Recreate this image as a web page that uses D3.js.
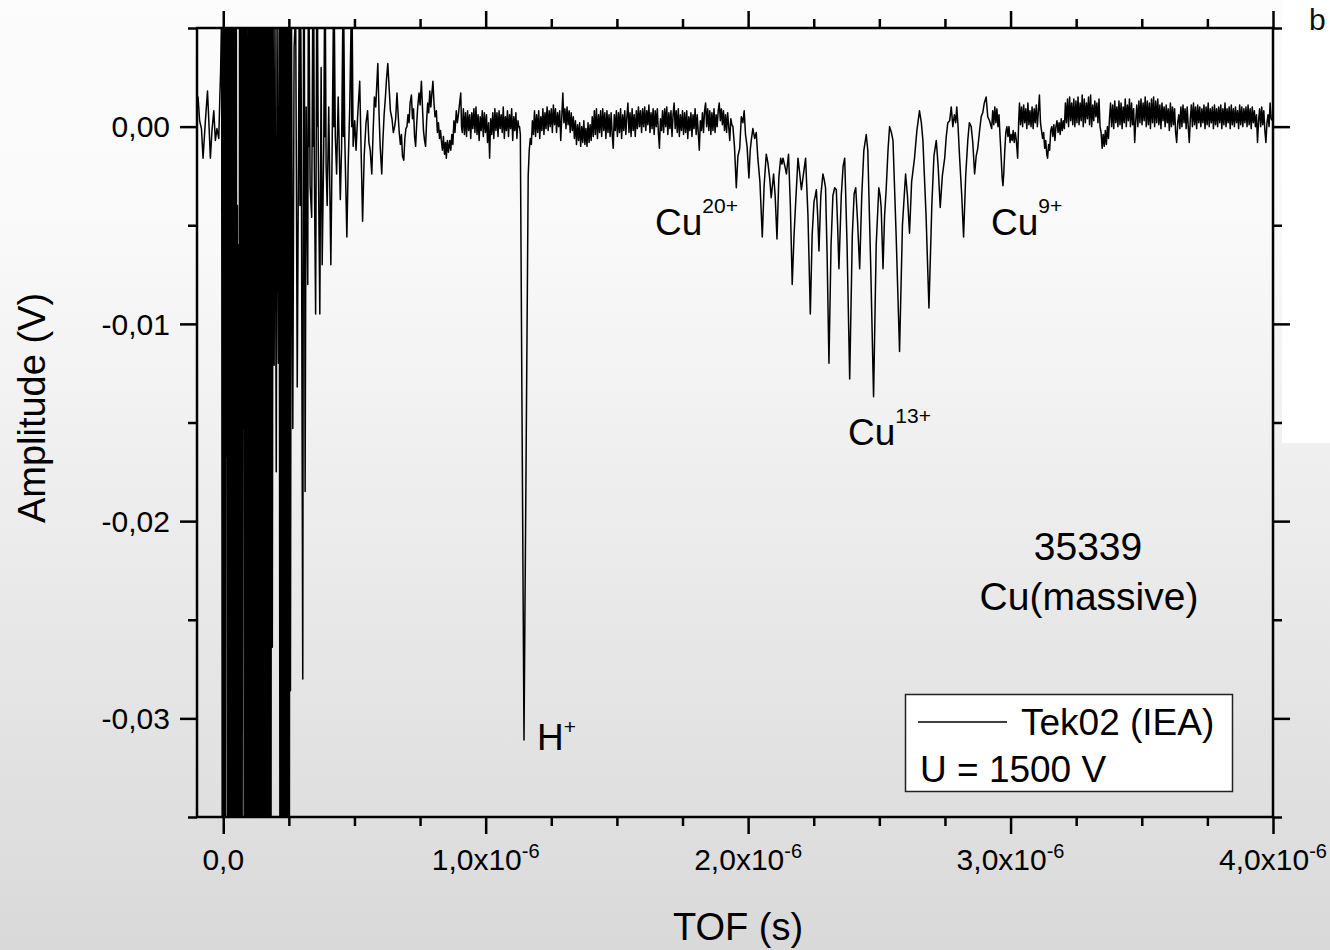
<!DOCTYPE html>
<html>
<head>
<meta charset="utf-8">
<title>TOF spectrum</title>
<script src="https://cdn.jsdelivr.net/npm/d3@7/dist/d3.min.js"></script>
<style>
html,body{margin:0;padding:0;background:#fff;}
svg{display:block;font-family:"Liberation Sans",Arial,Helvetica,sans-serif;}
</style>
</head>
<body>
<svg id="chart" width="1330" height="950"></svg>
<script>
// ---------- data: [TOF (µs), amplitude (mV)] ----------
const preBurst = [[-0.100,1.2],[-0.096,1.5],[-0.090,0.3],[-0.083,-0.1],[-0.077,-1.6],[-0.068,0.3],[-0.060,1.8],[-0.055,0.3],[-0.049,-1.6],[-0.043,-0.2],[-0.036,0.8],[-0.030,-0.7],[-0.024,-0.1],[-0.017,-0.6],[-0.013,1.5],[-0.010,2.8]];

const burst = [[-0.006,6],[-0.004,-38],[-0.002,6],[0.000,-38],[0.002,6],[0.004,-38],[0.006,6],[0.008,-38],[0.010,6],[0.012,-16.7],[0.014,6],[0.016,-38],[0.018,6],[0.020,-38],[0.022,6],[0.024,-38],[0.026,6],[0.028,-38],[0.030,6],[0.032,-38],[0.034,6],[0.036,-38],[0.038,6],[0.040,-38],[0.042,6],[0.044,-38],[0.046,6],[0.048,-38],[0.050,6],[0.052,-38],[0.054,-4],[0.056,-38],[0.058,-6],[0.060,-38],[0.062,6],[0.064,-38],[0.066,6],[0.068,-38],[0.070,6],[0.072,-38],[0.074,6],[0.076,-15.3],[0.078,6],[0.080,-38],[0.082,6],[0.084,-38],[0.086,6],[0.088,-38],[0.090,6],[0.092,-38],[0.094,-13.1],[0.096,6],[0.098,-38],[0.100,6],[0.102,-38],[0.104,6],[0.106,-38],[0.108,6],[0.110,-38],[0.112,6],[0.114,-38],[0.116,6],[0.118,-38],[0.120,6],[0.122,-38],[0.124,6],[0.126,-38],[0.128,6],[0.130,-38],[0.132,6],[0.134,-38],[0.136,6],[0.138,-38],[0.140,6],[0.142,-38],[0.144,6],[0.146,-38],[0.148,6],[0.150,-38],[0.152,6],[0.154,-38],[0.156,6],[0.158,-38],[0.160,6],[0.162,-38],[0.164,6],[0.166,-38],[0.168,6],[0.170,-38],[0.172,6],[0.174,-38],[0.176,6],[0.178,-38],[0.180,6],[0.182,-38],[0.184,6],[0.187,-26.4],[0.190,6],[0.194,-12.1],[0.197,6],[0.202,-17.5],[0.205,6],[0.210,-12],[0.213,6],[0.216,-38],[0.218,6],[0.220,-38],[0.222,6],[0.224,-38],[0.226,6],[0.228,-38],[0.230,6],[0.232,-38],[0.234,6],[0.236,-38],[0.238,6],[0.240,-38],[0.242,6],[0.244,-38],[0.246,6],[0.248,-38],[0.250,6],[0.252,-38],[0.254,6],[0.256,-28.6],[0.260,6],[0.265,-15.3],[0.270,4],[0.276,6],[0.282,-13.2]];

const ringDown = [[0.2895,6],[0.2925,-4],[0.295,6],[0.297,2],[0.303,-28],[0.306,6],[0.3075,-3],[0.309,6],[0.312,-18.5],[0.316,1],[0.322,-8],[0.324,6],[0.3255,-1],[0.327,6],[0.331,-3],[0.337,-4.6],[0.341,6],[0.343,-1],[0.345,6],[0.347,-2],[0.352,-9.5],[0.356,6],[0.3575,0],[0.359,6],[0.362,-1],[0.368,-9.5],[0.373,3],[0.377,-7],[0.383,-1],[0.386,6],[0.3875,-0.5],[0.389,6],[0.392,-2],[0.396,-4],[0.402,1],[0.410,-7],[0.415,-1],[0.420,6],[0.4215,0],[0.423,6],[0.427,-0.5],[0.432,-2.4],[0.438,1.5],[0.446,-3.7],[0.451,-1],[0.456,6],[0.4575,-0.5],[0.459,6],[0.463,-0.5],[0.471,-5.6],[0.476,-2],[0.482,1],[0.488,6],[0.4895,0],[0.491,6],[0.495,-1],[0.501,0.3],[0.506,-1.2],[0.512,0.5],[0.520,2.3],[0.525,-1],[0.531,-4.8],[0.537,-1.5],[0.544,0.2],[0.550,0.8],[0.555,-0.8],[0.560,-1.2],[0.566,-2.4],[0.571,-0.3],[0.576,1.5],[0.581,1.0],[0.589,3.2],[0.594,0.5],[0.598,-1.0],[0.604,-2.4],[0.608,-0.8],[0.613,0.6],[0.618,1.5],[0.622,2.4],[0.627,3.2],[0.632,2.0],[0.637,0.8],[0.643,0.4],[0.648,-0.3],[0.653,0.0]];

const baseline0 = [[0.657,0.4],[0.662,1.7],[0.666,0.7],[0.670,-0.2],[0.675,-0.9],[0.679,-0.4],[0.683,-1.5],[0.688,-1.7],[0.692,-0.6],[0.696,-0.1],[0.700,0.0],[0.704,0.6],[0.708,0.2],[0.712,1.2],[0.717,1.6],[0.721,0.4],[0.725,0.9],[0.729,-0.5],[0.733,-1.0],[0.737,0.1],[0.741,1.0],[0.746,1.7],[0.750,1.1],[0.755,2.3],[0.759,1.0],[0.763,-0.2],[0.767,-0.7],[0.771,-1.0],[0.775,0.3],[0.779,1.2],[0.783,0.7],[0.787,1.8],[0.791,1.0],[0.795,1.7],[0.799,2.3],[0.803,1.2],[0.807,0.5],[0.812,0.8],[0.816,-0.3],[0.820,0.2],[0.824,-0.6],[0.828,-0.2],[0.831,-0.7],[0.835,-1.2],[0.839,-0.5],[0.843,-1.4],[0.847,-0.8],[0.850,-1.6],[0.854,-0.7],[0.858,-1.3],[0.863,-0.7],[0.867,-1.2],[0.871,-0.4],[0.875,-0.9],[0.879,0.3],[0.883,-0.3],[0.888,0.8],[0.892,0.2],[0.896,0.6],[0.900,1.1],[0.905,1.7],[0.908,0.0]];

const baseline1 = [[0.911,-0.3],[0.915,0.9],[0.919,-0.4],[0.923,0.7],[0.927,-0.5],[0.931,0.8],[0.935,-0.2],[0.939,0.6],[0.943,-0.6],[0.947,0.7],[0.951,-0.1],[0.955,0.9],[0.959,-0.3],[0.963,1.0],[0.967,-0.4],[0.971,0.6],[0.975,-0.7],[0.979,0.5],[0.983,-0.2],[0.987,0.8],[0.991,-0.5],[0.995,0.7],[0.999,-0.3],[1.003,0.6],[1.007,-0.8],[1.011,0.2],[1.015,-1.6],[1.019,0.4],[1.023,-0.4],[1.027,0.7],[1.031,-0.6],[1.035,0.9],[1.039,-0.2],[1.043,0.7],[1.047,-0.5],[1.051,0.8],[1.055,-0.1],[1.059,0.6],[1.063,-0.3],[1.067,1.0],[1.071,-0.6],[1.075,0.5],[1.079,-0.2],[1.083,0.8],[1.087,-0.5],[1.091,0.6],[1.095,-0.1],[1.099,0.9],[1.103,-0.7],[1.107,0.5],[1.111,-0.2],[1.115,0.7],[1.119,-0.6],[1.123,0.3],[1.126,0.0]];

const hPeak = [[1.129,0.0],[1.132,-0.4],[1.146,-31.1],[1.162,-2.5],[1.166,-1.2],[1.170,-0.6],[1.174,-0.9],[1.178,0.3],[1.182,-0.4],[1.186,0.8]];

const baseline2 = [[1.190,-0.5],[1.194,0.6],[1.198,-0.3],[1.202,0.8],[1.206,-0.6],[1.210,0.5],[1.214,-0.2],[1.218,0.9],[1.222,-0.4],[1.226,0.7],[1.230,-0.1],[1.234,1.0],[1.238,-0.2],[1.242,0.8],[1.246,0.0],[1.250,0.9],[1.254,-0.3],[1.258,1.1],[1.262,0.1],[1.266,0.9],[1.270,-0.3],[1.274,0.7],[1.278,0.0],[1.282,0.8],[1.286,-0.7],[1.290,0.5],[1.294,1.7],[1.298,0.2],[1.302,0.9],[1.306,-0.1],[1.310,1.0],[1.314,0.1],[1.318,0.8],[1.322,-0.3],[1.326,0.7],[1.330,-0.2],[1.334,0.5],[1.338,-0.6],[1.342,0.3],[1.346,-0.9],[1.350,0.1],[1.354,-0.7],[1.358,0.2],[1.362,-1.0],[1.366,0.0],[1.370,-0.8],[1.374,0.3],[1.378,-0.9],[1.382,-0.1],[1.386,-1.0],[1.390,0.2],[1.394,-0.8],[1.398,0.1],[1.402,-0.7],[1.406,0.5],[1.410,-0.5],[1.414,0.8],[1.418,-0.4],[1.422,0.9],[1.426,-0.6],[1.430,0.6],[1.434,-0.3],[1.438,0.8],[1.442,-0.5],[1.446,0.9],[1.450,-0.2],[1.454,0.7],[1.458,-0.6],[1.462,0.8],[1.466,-0.3],[1.470,0.6],[1.474,-0.5],[1.478,0.7],[1.482,-0.4],[1.486,-1.1],[1.490,0.6],[1.494,-0.2],[1.498,0.8],[1.502,-0.5],[1.506,0.7],[1.510,-0.3],[1.514,0.9],[1.518,-0.6],[1.522,0.6],[1.526,-0.2],[1.530,0.8],[1.534,-0.4],[1.538,0.5],[1.542,1.2],[1.546,-0.3],[1.550,0.7],[1.554,-0.5],[1.558,0.9],[1.562,-0.2],[1.566,0.6],[1.570,-0.5],[1.574,0.8],[1.578,-0.1],[1.582,1.0],[1.586,0.0],[1.590,0.8],[1.594,-0.3],[1.598,0.9],[1.602,0.0],[1.606,1.0],[1.610,-0.2],[1.614,0.8],[1.618,0.1],[1.622,1.1],[1.626,-0.3],[1.630,0.7],[1.634,-0.1],[1.638,0.9],[1.642,-0.4],[1.646,0.8],[1.650,0.0],[1.654,0.9],[1.658,-0.3],[1.662,-1.1],[1.666,0.4],[1.670,-0.2],[1.674,0.8],[1.678,-0.3],[1.682,0.9],[1.686,0.0],[1.690,1.0],[1.694,-0.4],[1.698,0.7],[1.702,-0.1],[1.706,0.8],[1.710,-0.5],[1.714,0.6],[1.718,1.2],[1.722,-0.1],[1.726,0.8],[1.730,-0.3],[1.734,0.9],[1.738,-0.5],[1.742,0.6],[1.746,-0.2],[1.750,0.8],[1.754,-0.4],[1.758,0.7],[1.762,-0.3],[1.766,0.8],[1.770,-0.6],[1.774,0.5],[1.778,-0.2],[1.782,0.7],[1.786,-0.5],[1.790,0.6],[1.794,-0.1],[1.798,0.9],[1.802,-0.4],[1.806,0.6],[1.810,-0.3],[1.814,-1.2],[1.818,0.3],[1.822,-0.2],[1.826,0.7],[1.830,-0.3],[1.834,0.8],[1.838,1.2],[1.842,0.0],[1.846,0.9],[1.850,-0.2],[1.854,0.8],[1.858,-0.4],[1.862,0.7],[1.866,-0.2],[1.870,0.9],[1.874,-0.3],[1.878,0.6],[1.882,0.0],[1.886,0.8],[1.890,1.2],[1.894,0.3],[1.898,0.9],[1.902,0.1],[1.906,0.8],[1.910,-0.2],[1.914,0.6],[1.918,-0.3],[1.922,0.7],[1.926,0.0],[1.930,-0.7],[1.934,0.4],[1.938,0.1]];

const cuCluster = [[1.942,0.0],[1.948,-1.0],[1.955,-3.1],[1.961,-1.5],[1.968,-1.1],[1.974,0.5],[1.980,0.2],[1.985,0.8],[1.990,-0.4],[1.996,-1.0],[2.003,-2.6],[2.008,-1.2],[2.012,-0.7],[2.018,-0.1],[2.025,-0.6],[2.031,-0.3],[2.037,-1.6],[2.045,-2.8],[2.054,-5.6],[2.061,-3.0],[2.069,-1.4],[2.075,-1.8],[2.082,-2.6],[2.088,-3.6],[2.097,-2.4],[2.103,-3.5],[2.110,-5.7],[2.117,-2.6],[2.124,-1.6],[2.129,-1.9],[2.133,-1.6],[2.140,-2.0],[2.146,-2.4],[2.154,-1.4],[2.161,-4.0],[2.168,-8.0],[2.175,-5.5],[2.181,-3.9],[2.190,-1.6],[2.196,-2.3],[2.203,-3.2],[2.210,-2.5],[2.219,-1.6],[2.228,-4.5],[2.237,-9.5],[2.244,-5.5],[2.251,-3.8],[2.256,-3.5],[2.260,-3.2],[2.265,-4.5],[2.270,-6.3],[2.277,-3.5],[2.285,-2.4],[2.290,-2.7],[2.295,-3.1],[2.301,-6.5],[2.308,-12.0],[2.316,-6.0],[2.323,-3.5],[2.330,-3.1],[2.336,-3.2],[2.341,-5.0],[2.346,-7.2],[2.355,-3.5],[2.362,-2.0],[2.368,-1.6],[2.377,-6.0],[2.387,-12.8],[2.397,-5.5],[2.404,-3.4],[2.410,-3.1],[2.417,-4.8],[2.425,-7.2],[2.433,-3.5],[2.441,-1.2],[2.450,-0.4],[2.456,-1.2],[2.467,-7.0],[2.478,-13.7],[2.488,-6.0],[2.498,-3.1],[2.503,-3.5],[2.507,-4.1],[2.514,-7.2],[2.520,-4.5],[2.526,-3.2],[2.533,-1.2],[2.539,0.0],[2.546,-0.3],[2.552,-0.7],[2.564,-5.5],[2.577,-11.4],[2.588,-5.0],[2.600,-2.4],[2.607,-3.5],[2.615,-5.4],[2.623,-2.8],[2.634,-1.6],[2.643,-0.2],[2.648,0.3],[2.653,0.8],[2.660,0.2],[2.666,-0.7],[2.678,-4.5],[2.689,-9.2],[2.700,-4.0],[2.708,-1.5],[2.717,-0.7],[2.724,-2.0],[2.732,-4.1],[2.740,-2.5],[2.749,-1.6],[2.755,-0.5],[2.761,0.2],[2.768,0.3],[2.774,1.0],[2.780,0.0],[2.786,0.6],[2.791,0.2],[2.795,1.0],[2.800,0.0],[2.806,-1.6],[2.814,-3.5],[2.821,-5.6],[2.829,-2.5],[2.837,-0.7],[2.843,0.2],[2.850,0.0],[2.856,-0.8],[2.863,-2.4],[2.869,-1.5],[2.875,-1.1],[2.882,-0.2],[2.888,0.5],[2.894,0.7],[2.900,1.2],[2.907,1.5],[2.913,0.5],[2.920,0.3]];

const tail = [[2.928,-0.1],[2.932,0.8],[2.936,0.1],[2.940,1.0],[2.944,0.2],[2.948,0.9],[2.952,0.0],[2.956,0.6],[2.960,-0.5],[2.964,-1.5],[2.968,-2.6],[2.971,-3.0],[2.974,-2.4],[2.978,-1.2],[2.982,-0.3],[2.986,0.0],[2.990,-0.5],[2.994,0.0],[2.998,-0.8],[3.002,-0.4],[3.006,-0.7],[3.010,-0.2],[3.014,-0.8],[3.018,-0.3],[3.022,-0.7],[3.027,-1.6],[3.031,0.3],[3.034,1.2],[3.038,0.1],[3.042,1.0],[3.046,0.0],[3.050,1.1],[3.054,0.2],[3.058,0.9],[3.062,-0.1],[3.066,1.2],[3.070,0.1],[3.074,0.8],[3.078,0.0],[3.082,1.0],[3.086,-0.1],[3.090,0.9],[3.094,0.2],[3.098,1.1],[3.102,0.0],[3.106,0.8],[3.110,1.6],[3.114,0.2],[3.118,-0.2],[3.122,-0.6],[3.126,-0.3],[3.130,-1.1],[3.134,-0.7],[3.138,-1.4],[3.141,-1.6],[3.145,-0.9],[3.149,-1.2],[3.153,-0.2],[3.157,0.0],[3.161,-0.5],[3.165,0.1],[3.169,-0.7],[3.173,0.0],[3.177,0.3],[3.181,-0.3],[3.185,0.2],[3.189,-0.4],[3.193,0.4],[3.197,-0.2],[3.201,0.3],[3.205,-0.1],[3.209,1.2],[3.213,0.2],[3.217,1.4],[3.221,0.0],[3.225,1.5],[3.229,0.3],[3.233,1.2],[3.237,0.1],[3.241,1.4],[3.245,0.0],[3.249,1.3],[3.253,0.2],[3.257,1.5],[3.261,0.1],[3.265,1.2],[3.269,0.3],[3.273,1.6],[3.277,0.0],[3.281,1.4],[3.285,0.2],[3.289,1.2],[3.293,0.4],[3.297,1.5],[3.301,0.1],[3.305,1.6],[3.309,0.0],[3.313,1.1],[3.317,0.3],[3.321,1.3],[3.325,0.5],[3.329,1.2],[3.333,0.2],[3.337,1.4],[3.341,0.0],[3.345,-0.3],[3.349,-1.1],[3.353,-0.4],[3.357,-1.0],[3.361,-0.2],[3.365,-0.9],[3.369,0.0],[3.373,-0.6],[3.377,0.4],[3.381,1.2],[3.385,0.0],[3.389,1.1],[3.393,-0.1],[3.397,1.3],[3.401,0.2],[3.405,1.0],[3.409,0.0],[3.413,1.3],[3.417,0.1],[3.421,1.2],[3.425,-0.1],[3.429,1.0],[3.433,0.2],[3.437,1.4],[3.441,0.0],[3.445,1.1],[3.449,0.3],[3.453,1.4],[3.457,0.0],[3.461,1.2],[3.465,0.1],[3.469,0.9],[3.473,-0.8],[3.477,0.3],[3.481,1.1],[3.485,0.0],[3.489,1.3],[3.493,0.2],[3.497,1.4],[3.501,0.1],[3.505,1.2],[3.509,0.3],[3.513,1.5],[3.517,0.0],[3.521,1.3],[3.525,0.1],[3.529,1.2],[3.533,-0.1],[3.537,1.4],[3.541,0.2],[3.545,1.5],[3.549,0.0],[3.553,1.3],[3.557,0.2],[3.561,1.4],[3.565,0.1],[3.569,1.1],[3.573,-0.1],[3.577,1.2],[3.581,0.3],[3.585,1.0],[3.589,0.0],[3.593,1.1],[3.597,0.2],[3.601,0.9],[3.605,-0.2],[3.609,1.2],[3.613,0.0],[3.617,1.0],[3.621,0.1],[3.625,0.9],[3.629,-0.3],[3.633,-0.8],[3.637,0.2],[3.641,0.6],[3.645,-0.1],[3.649,1.0],[3.653,0.0],[3.657,1.1],[3.661,0.2],[3.665,0.9],[3.669,-0.1],[3.673,1.0],[3.677,0.0],[3.681,-0.8],[3.685,0.4],[3.689,1.1],[3.693,0.0],[3.697,1.2],[3.701,0.1],[3.705,1.0],[3.709,-0.1],[3.713,1.1],[3.717,0.2],[3.721,1.0],[3.725,0.0],[3.729,0.9],[3.733,0.2],[3.737,1.1],[3.741,-0.1],[3.745,1.0],[3.749,0.1],[3.753,1.2],[3.757,0.0],[3.761,0.9],[3.765,0.2],[3.769,1.0],[3.773,-0.1],[3.777,1.1],[3.781,0.1],[3.785,0.9],[3.789,0.0],[3.793,1.0],[3.797,0.2],[3.801,1.1],[3.805,-0.1],[3.809,0.9],[3.813,0.1],[3.817,1.2],[3.821,0.0],[3.825,0.9],[3.829,0.2],[3.833,1.0],[3.837,-0.1],[3.841,1.1],[3.845,0.1],[3.849,0.9],[3.853,0.0],[3.857,1.0],[3.861,0.2],[3.865,0.8],[3.869,-0.1],[3.873,1.1],[3.877,0.1],[3.881,1.0],[3.885,0.0],[3.889,0.9],[3.893,0.2],[3.897,1.0],[3.901,0.0],[3.905,1.1],[3.909,0.1],[3.913,0.9],[3.917,-0.1],[3.921,1.0],[3.925,0.2],[3.929,0.8],[3.933,0.0],[3.937,0.6],[3.941,-0.8],[3.945,0.3],[3.949,0.9],[3.953,0.0],[3.957,1.0],[3.961,0.1],[3.965,0.8],[3.969,-0.2],[3.973,-0.8],[3.977,0.2],[3.981,0.6],[3.985,0.0],[3.989,1.2],[3.993,0.4],[3.998,0.3]];

// ---------- axes, ticks, labels ----------
const xDomain = [-0.1e-6, 4.0e-6];
const yDomain = [-0.035, 0.005];
const xMajorTicks = [0, 1e-6, 2e-6, 3e-6, 4e-6];
const xMinorTicks = [0.25e-6, 0.5e-6, 0.75e-6, 1.25e-6, 1.5e-6, 1.75e-6, 2.25e-6, 2.5e-6, 2.75e-6, 3.25e-6, 3.5e-6, 3.75e-6];
const xTickMantissa = ["0,0", "1,0", "2,0", "3,0", "4,0"];
const xTickExponent = ["", "-6", "-6", "-6", "-6"];
const yMajorTicks = [0, -0.01, -0.02, -0.03];
const yMinorTicks = [0.005, -0.005, -0.015, -0.025, -0.035];
const yTickLabels = ["0,00", "-0,01", "-0,02", "-0,03"];
const xTitle = "TOF (s)";
const yTitle = "Amplitude (V)";
const legendLabels = ["Tek02 (IEA)", "U = 1500 V"];
const sampleLines = ["35339", "Cu(massive)"];
const peakLabels = [["Cu", "20+"], ["Cu", "13+"], ["Cu", "9+"], ["H", "+"]];
const panelLetter = "b";

// ---------- drawing ----------
const W = 1330, H = 950;
const L = 197, R = 1273, T = 28, B = 817;
const svg = d3.select("#chart");
const defs = svg.append("defs");
const grad = defs.append("linearGradient").attr("id", "bg").attr("x1", 0).attr("y1", 0).attr("x2", 0).attr("y2", 1);
grad.append("stop").attr("offset", "0%").attr("stop-color", "#fcfcfc");
grad.append("stop").attr("offset", "25%").attr("stop-color", "#f9f9f9");
grad.append("stop").attr("offset", "100%").attr("stop-color", "#d9d9d9");
defs.append("clipPath").attr("id", "clip").append("rect")
  .attr("x", L).attr("y", T).attr("width", R - L).attr("height", B - T);

svg.append("rect").attr("width", W).attr("height", H).attr("fill", "url(#bg)");
svg.append("rect").attr("x", 1282).attr("y", 0).attr("width", 48).attr("height", 443).attr("fill", "#ffffff");
svg.append("text").attr("x", 1309).attr("y", 30).attr("font-size", 30).attr("fill", "#111").text(panelLetter);

const x = d3.scaleLinear().domain(xDomain).range([L, R]);
const y = d3.scaleLinear().domain(yDomain).range([B, T]);

const trace = [].concat(preBurst, burst, ringDown, baseline0, baseline1, hPeak, baseline2, cuCluster, tail);
const line = d3.line().x(d => x(d[0] * 1e-6)).y(d => y(d[1] * 1e-3));
svg.append("path").datum(trace)
  .attr("clip-path", "url(#clip)")
  .attr("d", line).attr("fill", "none").attr("stroke", "#000")
  .attr("stroke-width", 1.5).attr("stroke-linejoin", "round");

function styleAxis(g) {
  g.select(".domain").remove();
  g.selectAll(".tick line").attr("stroke", "#000").attr("stroke-width", 2.5);
  g.selectAll(".tick text").remove();
}
const MAJ = 17, MIN = 9;
svg.append("g").attr("transform", `translate(0,${B})`).call(d3.axisBottom(x).tickValues(xMajorTicks).tickSize(MAJ).tickFormat("")).call(styleAxis);
svg.append("g").attr("transform", `translate(0,${B})`).call(d3.axisBottom(x).tickValues(xMinorTicks).tickSize(MIN).tickFormat("")).call(styleAxis);
svg.append("g").attr("transform", `translate(0,${T})`).call(d3.axisTop(x).tickValues(xMajorTicks).tickSize(MAJ).tickFormat("")).call(styleAxis);
svg.append("g").attr("transform", `translate(0,${T})`).call(d3.axisTop(x).tickValues(xMinorTicks).tickSize(MIN).tickFormat("")).call(styleAxis);
svg.append("g").attr("transform", `translate(${L},0)`).call(d3.axisLeft(y).tickValues(yMajorTicks).tickSize(MAJ).tickFormat("")).call(styleAxis);
svg.append("g").attr("transform", `translate(${L},0)`).call(d3.axisLeft(y).tickValues(yMinorTicks).tickSize(MIN).tickFormat("")).call(styleAxis);
svg.append("g").attr("transform", `translate(${R},0)`).call(d3.axisRight(y).tickValues(yMajorTicks).tickSize(MAJ).tickFormat("")).call(styleAxis);
svg.append("g").attr("transform", `translate(${R},0)`).call(d3.axisRight(y).tickValues(yMinorTicks).tickSize(MIN).tickFormat("")).call(styleAxis);

svg.append("rect").attr("x", L).attr("y", T).attr("width", R - L).attr("height", B - T)
  .attr("fill", "none").attr("stroke", "#000").attr("stroke-width", 2.5);

// tick labels
const xl = svg.append("g").attr("font-size", 30).attr("fill", "#000");
xMajorTicks.forEach((v, i) => {
  const t = xl.append("text").attr("x", x(v)).attr("y", 870).attr("text-anchor", "middle");
  if (xTickExponent[i]) {
    t.append("tspan").text(xTickMantissa[i] + "x10");
    t.append("tspan").attr("font-size", 20).attr("dy", -12).text(xTickExponent[i]);
  } else {
    t.text(xTickMantissa[i]);
  }
});
const yl = svg.append("g").attr("font-size", 30).attr("fill", "#000");
yMajorTicks.forEach((v, i) => {
  yl.append("text").attr("x", 170).attr("y", y(v)).attr("dy", "0.36em").attr("text-anchor", "end").text(yTickLabels[i]);
});

// axis titles
svg.append("text").attr("x", 738).attr("y", 940).attr("text-anchor", "middle").attr("font-size", 38).text(xTitle);
svg.append("text").attr("transform", "translate(45,408) rotate(-90)").attr("text-anchor", "middle").attr("font-size", 38).text(yTitle);

// peak annotations
const peakPos = [[655, 235, -22], [848, 445, -22], [991, 235, -22], [537, 750, -16]];
peakLabels.forEach((p, i) => {
  const [px, py, dy] = peakPos[i];
  const t = svg.append("text").attr("x", px).attr("y", py).attr("font-size", 37);
  t.append("tspan").text(p[0]);
  t.append("tspan").attr("font-size", 21).attr("dy", dy).text(p[1]);
});

// sample text
svg.append("text").attr("x", 1088).attr("y", 560).attr("text-anchor", "middle").attr("font-size", 39).text(sampleLines[0]);
svg.append("text").attr("x", 1089).attr("y", 610).attr("text-anchor", "middle").attr("font-size", 39).text(sampleLines[1]);

// legend
const lg = svg.append("g");
lg.append("rect").attr("x", 905.5).attr("y", 694.5).attr("width", 327).attr("height", 97)
  .attr("fill", "#fff").attr("stroke", "#222").attr("stroke-width", 1.5);
lg.append("line").attr("x1", 918).attr("x2", 1007).attr("y1", 722).attr("y2", 722)
  .attr("stroke", "#000").attr("stroke-width", 1.3);
lg.append("text").attr("x", 1021).attr("y", 735).attr("font-size", 37).text(legendLabels[0]);
lg.append("text").attr("x", 920).attr("y", 782).attr("font-size", 37).text(legendLabels[1]);
</script>
</body>
</html>
